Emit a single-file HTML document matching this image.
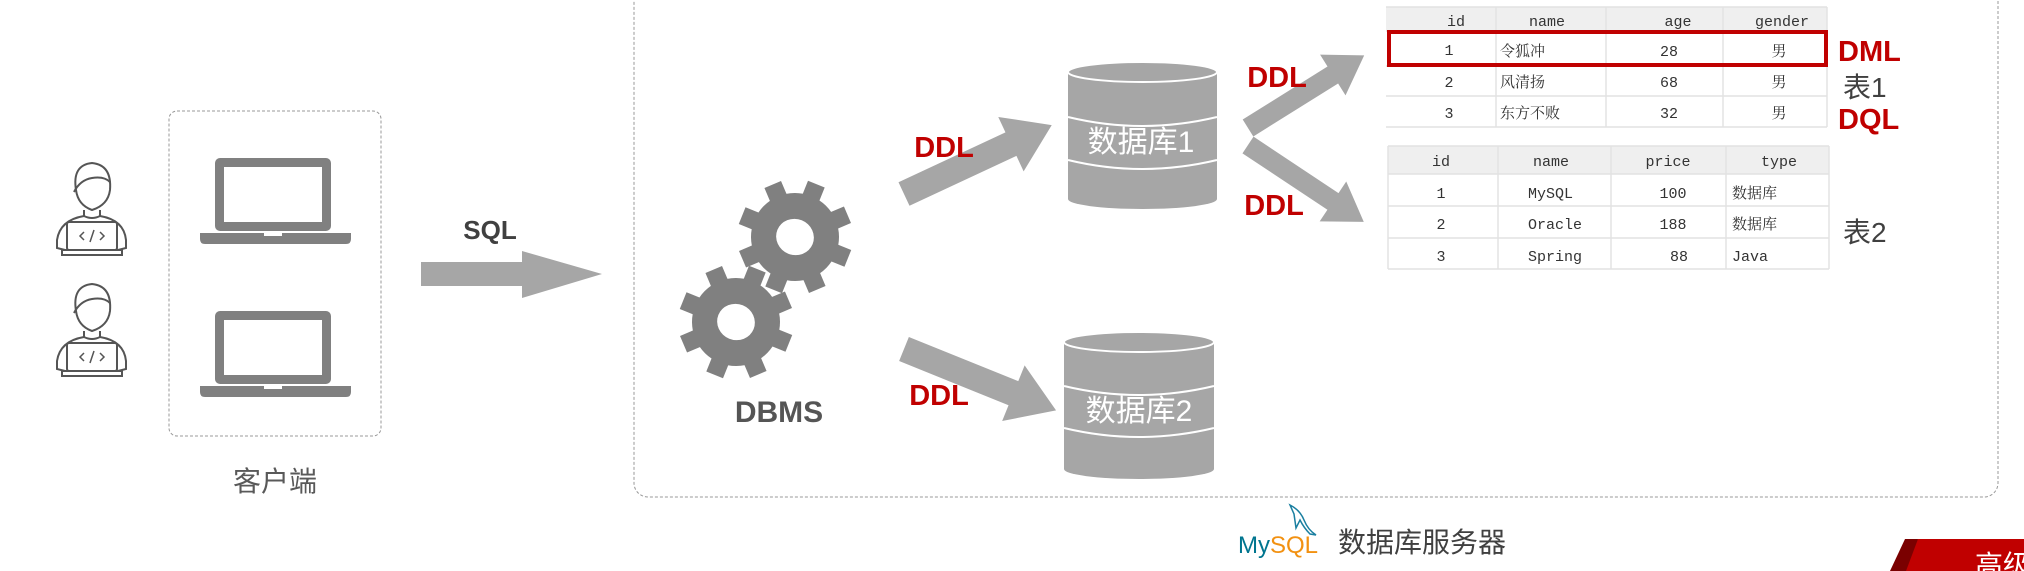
<!DOCTYPE html>
<html><head><meta charset="utf-8"><style>
html,body{margin:0;padding:0;background:#fff;}
body{width:2024px;height:571px;overflow:hidden;position:relative;}
svg{position:absolute;left:0;top:0;}
.cn{font-family:"Liberation Sans","Noto Sans CJK SC",sans-serif;}
.mono{font-family:"Liberation Mono","Noto Serif CJK SC",monospace;}
</style></head><body>
<svg width="2024" height="571" viewBox="0 0 2024 571" xmlns="http://www.w3.org/2000/svg">
<defs>
<g id="person" fill="none" stroke="#555" stroke-width="2">
  <path d="M76 190 Q72 165 92 163 Q112 165 110 190 Q108 205 92 210 Q78 205 76 190 Z"/>
  <path d="M74 192 Q80 180 92 178 Q104 176 110 182"/>
  <path d="M84 210 L84 216 Q60 220 57 240 L57 248 L65 250 M100 210 L100 216 Q124 220 126 240 L126 248 L118 250"/>
  <path d="M84 216 Q92 220 100 216"/>
  <rect x="67" y="222" width="50" height="28" rx="2"/>
  <path d="M62 250 L122 250 L122 255 L62 255 Z"/>
  <path d="M84 232 L80 236 L84 240 M90 242 L94 230 M100 232 L104 236 L100 240" stroke-width="1.5"/>
</g>
<g id="laptop">
  <rect x="0" y="0" width="116" height="73" rx="5" fill="#808080"/>
  <rect x="9" y="9" width="98" height="55" fill="#fff"/>
  <path d="M-15 75 L136 75 L136 81 Q136 86 131 86 L-10 86 Q-15 86 -15 81 Z" fill="#808080"/>
  <rect x="49" y="75" width="18" height="3" fill="#fff"/>
</g>
<g id="gear" fill="#808080">
  <circle cx="0" cy="0" r="44"/>
  <rect x="-9" y="-57" width="18" height="20" />
  <rect x="-9" y="-57" width="18" height="20" transform="rotate(45)"/>
  <rect x="-9" y="-57" width="18" height="20" transform="rotate(90)"/>
  <rect x="-9" y="-57" width="18" height="20" transform="rotate(135)"/>
  <rect x="-9" y="-57" width="18" height="20" transform="rotate(180)"/>
  <rect x="-9" y="-57" width="18" height="20" transform="rotate(225)"/>
  <rect x="-9" y="-57" width="18" height="20" transform="rotate(270)"/>
  <rect x="-9" y="-57" width="18" height="20" transform="rotate(315)"/>
  <ellipse cx="0" cy="0" rx="19" ry="18" fill="#fff"/>
</g>
</defs>

<use href="#person"/>
<use href="#person" transform="translate(0,121)"/>

<rect x="169" y="111" width="212" height="325" rx="8" fill="none" stroke="#999" stroke-width="1" stroke-dasharray="3,2"/>
<use href="#laptop" transform="translate(215,158)"/>
<use href="#laptop" transform="translate(215,311)"/>
<text x="275" y="491" class="cn" font-size="28" fill="#595959" text-anchor="middle">客户端</text>

<text x="490" y="239" class="cn" font-size="26" font-weight="bold" fill="#404040" text-anchor="middle">SQL</text>
<polygon points="421,262 522,262 522,251 602,274 522,298 522,286 421,286" fill="#a6a6a6"/>

<rect x="634" y="-20" width="1364" height="517" rx="14" fill="none" stroke="#999" stroke-width="1" stroke-dasharray="3,2"/>

<use href="#gear" transform="translate(795,237) rotate(22)"/>
<use href="#gear" transform="translate(736,322) rotate(22)"/>
<text x="779" y="422" class="cn" font-size="30" font-weight="bold" fill="#555" text-anchor="middle">DBMS</text>

<polygon points="0,-13 118,-13 118,-30 163,0 118,30 118,13 0,13" fill="#a6a6a6" transform="translate(904,194) rotate(-25)"/>
<polygon points="0,-13 118,-13 118,-30 164,0 118,30 118,13 0,13" fill="#a6a6a6" transform="translate(904,349) rotate(22)"/>
<text x="944" y="157" class="cn" font-size="29" font-weight="bold" fill="#c00000" text-anchor="middle">DDL</text>
<text x="939" y="405" class="cn" font-size="29" font-weight="bold" fill="#c00000" text-anchor="middle">DDL</text>

<g fill="#a6a6a6">
  <rect x="1068" y="72" width="149" height="127"/>
  <ellipse cx="1142.5" cy="199" rx="74.5" ry="10"/>
  <ellipse cx="1142.5" cy="72" rx="74.5" ry="10" stroke="#fff" stroke-width="2"/>
</g>
<path d="M1068 117 Q1142 135 1217 117 M1068 160 Q1142 178 1217 160" fill="none" stroke="#fff" stroke-width="2"/>
<text x="1141" y="152" class="cn" font-size="30" fill="#fff" text-anchor="middle">数据库1</text>

<g fill="#a6a6a6">
  <rect x="1064" y="342" width="150" height="127"/>
  <ellipse cx="1139" cy="469" rx="75" ry="10"/>
  <ellipse cx="1139" cy="342" rx="75" ry="10" stroke="#fff" stroke-width="2"/>
</g>
<path d="M1064 386 Q1139 404 1214 386 M1064 428 Q1139 446 1214 428" fill="none" stroke="#fff" stroke-width="2"/>
<text x="1139" y="421" class="cn" font-size="30" fill="#fff" text-anchor="middle">数据库2</text>

<polygon points="0,-10 100,-10 100,-24 137,0 100,24 100,10 0,10" fill="#a6a6a6" transform="translate(1248,128) rotate(-32)"/>
<polygon points="0,-10 102,-10 102,-24 139,0 102,24 102,10 0,10" fill="#a6a6a6" transform="translate(1248,145) rotate(33.6)"/>
<text x="1277" y="87" class="cn" font-size="29" font-weight="bold" fill="#c00000" text-anchor="middle">DDL</text>
<text x="1274" y="215" class="cn" font-size="29" font-weight="bold" fill="#c00000" text-anchor="middle">DDL</text>

<rect x="1386" y="7" width="441" height="24" fill="#efefef"/>
<g stroke="#e2e2e2" stroke-width="1.5" fill="none">
  <line x1="1386" y1="7" x2="1827" y2="7"/>
  <line x1="1386" y1="31" x2="1827" y2="31"/>
  <line x1="1386" y1="66" x2="1827" y2="66"/>
  <line x1="1386" y1="96" x2="1827" y2="96"/>
  <line x1="1386" y1="127" x2="1827" y2="127"/>
  <line x1="1496" y1="7" x2="1496" y2="127"/>
  <line x1="1606" y1="7" x2="1606" y2="127"/>
  <line x1="1723" y1="7" x2="1723" y2="127"/>
  <line x1="1827" y1="7" x2="1827" y2="127"/>
</g>
<g class="mono" font-size="15" fill="#333">
  <text x="1456" y="26" text-anchor="middle">id</text>
  <text x="1547" y="26" text-anchor="middle">name</text>
  <text x="1678" y="26" text-anchor="middle">age</text>
  <text x="1782" y="26" text-anchor="middle">gender</text>
  <text x="1449" y="55" text-anchor="middle">1</text>
  <text x="1500" y="56">令狐冲</text>
  <text x="1669" y="56" text-anchor="middle">28</text>
  <text x="1779" y="56" text-anchor="middle">男</text>
  <text x="1449" y="87" text-anchor="middle">2</text>
  <text x="1500" y="87">风清扬</text>
  <text x="1669" y="87" text-anchor="middle">68</text>
  <text x="1779" y="87" text-anchor="middle">男</text>
  <text x="1449" y="118" text-anchor="middle">3</text>
  <text x="1500" y="118">东方不败</text>
  <text x="1669" y="118" text-anchor="middle">32</text>
  <text x="1779" y="118" text-anchor="middle">男</text>
</g>
<rect x="1389" y="32" width="437" height="33" fill="none" stroke="#c00000" stroke-width="4"/>
<text x="1838" y="61" class="cn" font-size="29" font-weight="bold" fill="#c00000">DML</text>
<text x="1843" y="97" class="cn" font-size="28" fill="#404040">表1</text>
<text x="1838" y="129" class="cn" font-size="29" font-weight="bold" fill="#c00000">DQL</text>

<rect x="1388" y="146" width="441" height="28" fill="#efefef"/>
<g stroke="#e2e2e2" stroke-width="1.5" fill="none">
  <line x1="1388" y1="146" x2="1829" y2="146"/>
  <line x1="1388" y1="174" x2="1829" y2="174"/>
  <line x1="1388" y1="206" x2="1829" y2="206"/>
  <line x1="1388" y1="238" x2="1829" y2="238"/>
  <line x1="1388" y1="269" x2="1829" y2="269"/>
  <line x1="1388" y1="146" x2="1388" y2="269"/>
  <line x1="1498" y1="146" x2="1498" y2="269"/>
  <line x1="1611" y1="146" x2="1611" y2="269"/>
  <line x1="1726" y1="146" x2="1726" y2="269"/>
  <line x1="1829" y1="146" x2="1829" y2="269"/>
</g>
<g class="mono" font-size="15" fill="#333">
  <text x="1441" y="166" text-anchor="middle">id</text>
  <text x="1551" y="166" text-anchor="middle">name</text>
  <text x="1668" y="166" text-anchor="middle">price</text>
  <text x="1779" y="166" text-anchor="middle">type</text>
  <text x="1441" y="198" text-anchor="middle">1</text>
  <text x="1528" y="198">MySQL</text>
  <text x="1673" y="198" text-anchor="middle">100</text>
  <text x="1732" y="198">数据库</text>
  <text x="1441" y="229" text-anchor="middle">2</text>
  <text x="1528" y="229">Oracle</text>
  <text x="1673" y="229" text-anchor="middle">188</text>
  <text x="1732" y="229">数据库</text>
  <text x="1441" y="261" text-anchor="middle">3</text>
  <text x="1528" y="261">Spring</text>
  <text x="1679" y="261" text-anchor="middle">88</text>
  <text x="1732" y="261">Java</text>
</g>
<text x="1843" y="242" class="cn" font-size="28" fill="#404040">表2</text>

<path d="M1290 505 Q1300 510 1304 520 Q1308 530 1316 535 L1310 534 Q1304 528 1300 520 L1296 528 L1294 514 Z" fill="none" stroke="#1a7fa0" stroke-width="1.5"/>
<text x="1238" y="553" font-family="Liberation Sans,sans-serif" font-size="24" fill="#00758f">My</text>
<text x="1270" y="553" font-family="Liberation Sans,sans-serif" font-size="24" fill="#f29111">SQL</text>
<text x="1338" y="552" class="cn" font-size="28" fill="#404040">数据库服务器</text>

<polygon points="1918,539 2024,539 2024,571 1890,571" fill="#c00000"/>
<polygon points="1905,539 1918,539 1906,571 1890,571" fill="#7a0000"/>
<text x="1975" y="575" class="cn" font-size="28" fill="#fff">高级</text>
</svg>
</body></html>
